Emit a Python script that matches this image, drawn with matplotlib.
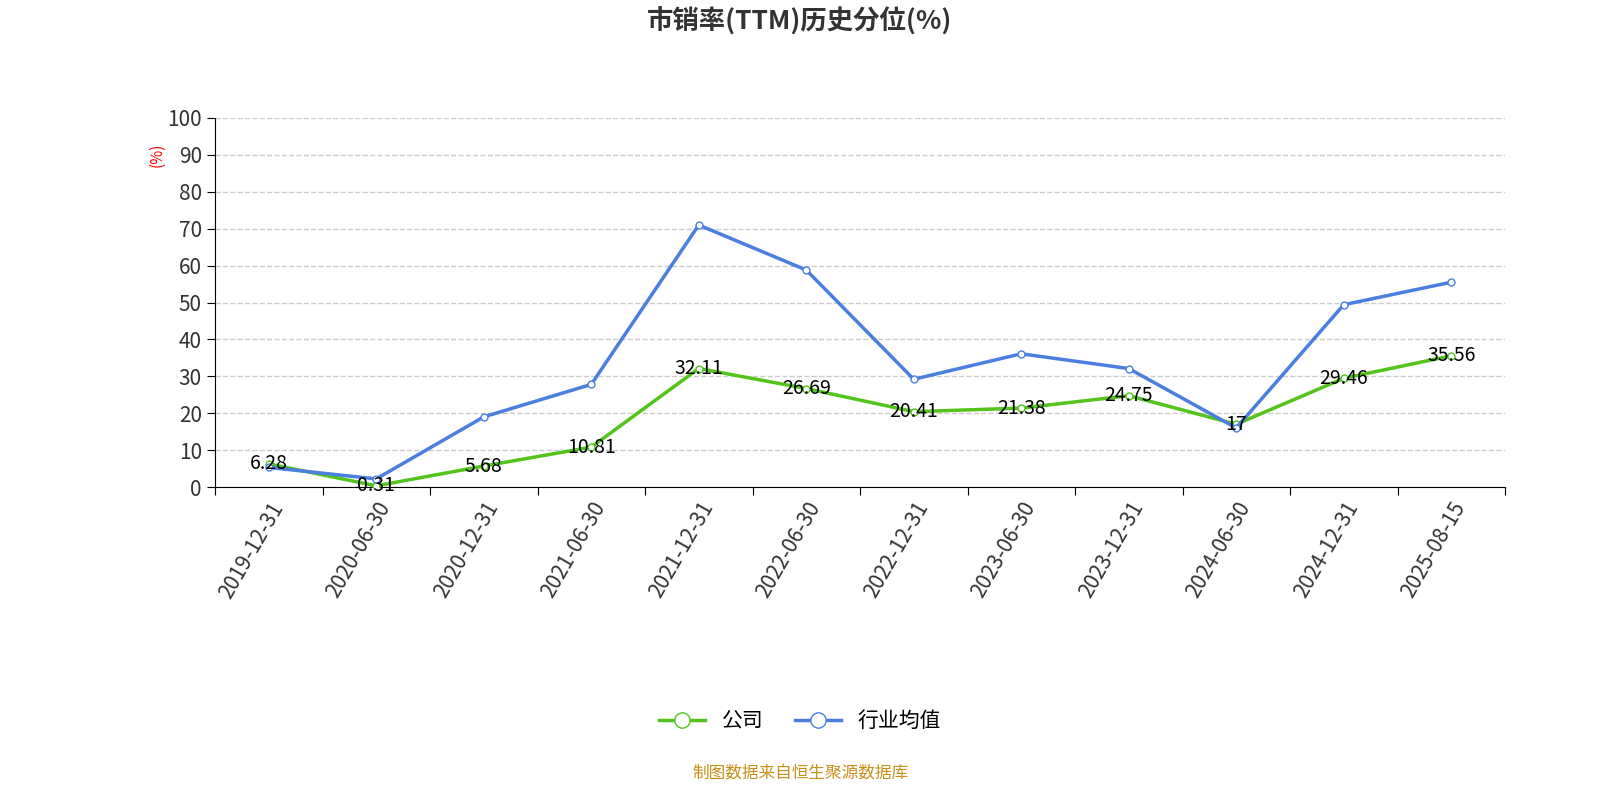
import matplotlib
matplotlib.use("Agg")
import matplotlib.pyplot as plt
from matplotlib import font_manager as fm

cjk = [f.name for f in fm.fontManager.ttflist if 'CJK' in f.name]
for p in fm.findSystemFonts():
    if 'CJK' in p or 'cjk' in p.lower():
        try:
            fm.fontManager.addfont(p)
        except Exception:
            pass
cjk = sorted(set(f.name for f in fm.fontManager.ttflist if 'CJK' in f.name))
fam = ['Noto Sans CJK SC'] if 'Noto Sans CJK SC' in cjk else (cjk[:1] or ['DejaVu Sans'])
plt.rcParams['font.family'] = fam + ['DejaVu Sans']

dates = ["2019-12-31","2020-06-30","2020-12-31","2021-06-30","2021-12-31","2022-06-30",
         "2022-12-31","2023-06-30","2023-12-31","2024-06-30","2024-12-31","2025-08-15"]
company = [6.28,0.31,5.68,10.81,32.11,26.69,20.41,21.38,24.75,17,29.46,35.56]
company_labels = ["6.28","0.31","5.68","10.81","32.11","26.69","20.41","21.38","24.75","17","29.46","35.56"]
industry = [5.3,2.2,19.0,27.8,71.0,58.8,29.2,36.1,32.1,16.0,49.4,55.5]

fig = plt.figure(figsize=(16,8), dpi=100)
ax = fig.add_axes([215/1600, 1-487/800, 1290/1600, 369/800])
x = list(range(len(dates)))
ax.plot(x, company, color='#52c41a', lw=2.5, marker='o', ms=5, mfc='white', mec='#52c41a', label='公司', zorder=3)
ax.plot(x, industry, color='#4a7fe0', lw=2.5, marker='o', ms=5, mfc='white', mec='#4a7fe0', label='行业均值', zorder=3)
for xi, v, t in zip(x, company, company_labels):
    ax.text(xi, v, t, ha='center', va='center', fontsize=14, color='black', zorder=4)
ax.set_xlim(-0.5, len(dates)-0.5)
ax.set_ylim(0, 100)
ax.set_yticks(range(0, 101, 10))
ax.set_xticks([i-0.5 for i in range(len(dates)+1)], minor=False)
ax.set_xticklabels([])
ax.set_xticks(x, minor=True)
ax.set_xticklabels(dates, minor=True, rotation=60, ha='right', rotation_mode='anchor', fontsize=15, color='#333333')
ax.tick_params(axis='x', which='minor', length=0, pad=8)
ax.tick_params(axis='x', which='major', length=6)
ax.tick_params(axis='y', labelsize=15, labelcolor='#333333', length=6)
ax.grid(axis='y', ls='--', color='#cccccc', lw=1)
for s in ['top','right']:
    ax.spines[s].set_visible(False)
ax.text(-0.045, 0.9, '(%)', transform=ax.transAxes, rotation=90, color='red', fontsize=11, ha='center', va='center')
fig.text(0.5, 1-22/800, '市销率(TTM)历史分位(%)', ha='center', va='center', fontsize=19, fontweight='bold', color='#333333')
fig.legend(loc='center', bbox_to_anchor=(0.5, 1-721/800), ncol=2, frameon=False, fontsize=15, markerscale=2.2, handlelength=2.2, columnspacing=1.5)
fig.text(0.5, 1-773/800, '制图数据来自恒生聚源数据库', ha='center', va='center', fontsize=12, color='#c8901a')
fig.savefig('out.png')
